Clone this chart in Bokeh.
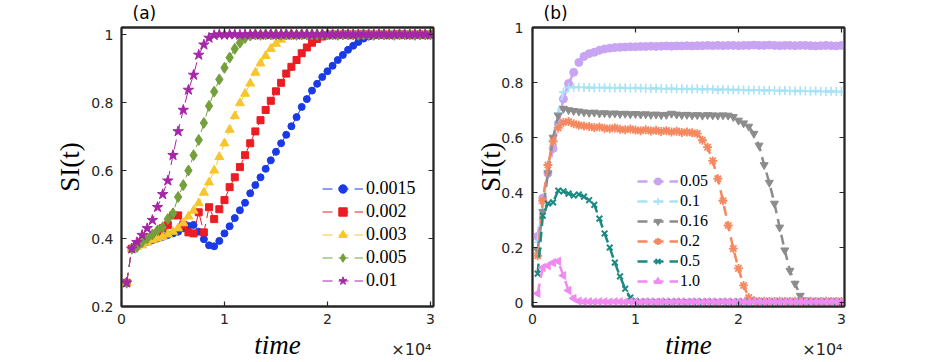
from bokeh.plotting import figure
from bokeh.models import Range1d, Legend, LegendItem, Label, LinearAxis, FixedTicker
from bokeh.layouts import row
from bokeh.embed import file_html
from bokeh.resources import INLINE
import math

# ---------------- data ----------------
time = [500, 1000, 1500, 2000, 2500, 3000, 3500, 4000, 4500, 5000,
        5500, 6000, 6500, 7000, 7500, 8000, 8500, 9000, 9500, 10000,
        10500, 11000, 11500, 12000, 12500, 13000, 13500, 14000, 14500, 15000,
        15500, 16000, 16500, 17000, 17500, 18000, 18500, 19000, 19500, 20000,
        20500, 21000, 21500, 22000, 22500, 23000, 23500, 24000, 24500, 25000,
        25500, 26000, 26500, 27000, 27500, 28000, 28500, 29000, 29500, 30000]

# panel (a)
labels_a = ["0.0015", "0.002", "0.003", "0.005", "0.01"]
si_a_0015 = [0.27, 0.37, 0.38, 0.385, 0.39, 0.395, 0.40, 0.405, 0.41, 0.415,
             0.42, 0.43, 0.437, 0.44, 0.42, 0.398, 0.38, 0.377, 0.393, 0.415,
             0.436, 0.46, 0.483, 0.505, 0.533, 0.557, 0.58, 0.605, 0.63, 0.655,
             0.68, 0.705, 0.73, 0.757, 0.787, 0.81, 0.835, 0.855, 0.875, 0.892,
             0.908, 0.925, 0.94, 0.955, 0.967, 0.978, 0.988, 0.994, 0.997, 0.999,
             1.0, 0.999, 1.0, 1.0, 0.999, 1.0, 1.0, 0.999, 1.0, 1.0]
si_a_002 = [0.27, 0.37, 0.38, 0.39, 0.395, 0.405, 0.415, 0.43, 0.44, 0.468,
            0.468, 0.44, 0.418, 0.415, 0.477, 0.418, 0.492, 0.457, 0.486, 0.513,
            0.551, 0.58, 0.61, 0.645, 0.68, 0.715, 0.748, 0.778, 0.805, 0.833,
            0.858, 0.885, 0.905, 0.925, 0.945, 0.962, 0.976, 0.987, 0.994, 0.998,
            1.0, 0.999, 1.0, 1.0, 0.999, 1.0, 1.0, 1.0, 0.999, 1.0,
            1.0, 0.999, 1.0, 1.0, 1.0, 0.999, 1.0, 1.0, 0.999, 1.0]
si_a_003 = [0.27, 0.37, 0.375, 0.38, 0.388, 0.395, 0.40, 0.405, 0.412, 0.42,
            0.43, 0.445, 0.465, 0.482, 0.504, 0.535, 0.565, 0.60, 0.64, 0.68,
            0.72, 0.76, 0.798, 0.826, 0.856, 0.888, 0.915, 0.937, 0.958, 0.973,
            0.985, 0.993, 0.997, 0.999, 1.0, 1.0, 0.999, 1.0, 1.0, 1.0,
            0.999, 1.0, 1.0, 0.999, 1.0, 1.0, 1.0, 0.999, 1.0, 1.0,
            0.999, 1.0, 1.0, 1.0, 0.999, 1.0, 1.0, 0.999, 1.0, 1.0]
si_a_005 = [0.27, 0.37, 0.375, 0.389, 0.40, 0.412, 0.424, 0.433, 0.457, 0.474,
            0.522, 0.557, 0.60, 0.645, 0.69, 0.74, 0.79, 0.832, 0.868, 0.902,
            0.932, 0.958, 0.976, 0.99, 0.997, 1.0, 0.999, 1.0, 1.0, 1.0,
            0.999, 1.0, 1.0, 0.999, 1.0, 1.0, 1.0, 0.999, 1.0, 1.0,
            1.0, 0.999, 1.0, 1.0, 1.0, 0.999, 1.0, 1.0, 0.999, 1.0,
            1.0, 1.0, 0.999, 1.0, 1.0, 1.0, 0.999, 1.0, 1.0, 1.0]
si_a_01 = [0.27, 0.37, 0.389, 0.41, 0.43, 0.454, 0.492, 0.53, 0.57, 0.645,
           0.715, 0.778, 0.837, 0.881, 0.94, 0.97, 0.99, 0.998, 1.0, 0.999,
           1.0, 1.0, 0.999, 1.0, 1.0, 1.0, 0.999, 1.0, 1.0, 0.999,
           1.0, 1.0, 1.0, 0.999, 1.0, 1.0, 0.999, 1.0, 1.0, 1.0,
           0.999, 1.0, 1.0, 1.0, 0.999, 1.0, 1.0, 0.999, 1.0, 1.0,
           1.0, 0.999, 1.0, 1.0, 1.0, 0.999, 1.0, 1.0, 1.0, 0.999]

# panel (b)
labels_b = ["0.05", "0.1", "0.16", "0.2", "0.5", "1.0"]
si_b_005 = [0.24, 0.38, 0.47, 0.56, 0.65, 0.74, 0.796, 0.837, 0.873, 0.895,
            0.905, 0.91, 0.917, 0.922, 0.925, 0.927, 0.928, 0.929, 0.93, 0.93,
            0.931, 0.931, 0.932, 0.931, 0.932, 0.933, 0.932, 0.933, 0.933, 0.934,
            0.933, 0.934, 0.934, 0.935, 0.934, 0.935, 0.934, 0.935, 0.935, 0.934,
            0.935, 0.935, 0.936, 0.935, 0.935, 0.936, 0.935, 0.934, 0.935, 0.935,
            0.934, 0.935, 0.935, 0.934, 0.933, 0.934, 0.935, 0.934, 0.933, 0.935]
si_b_01 = [0.22, 0.36, 0.48, 0.59, 0.69, 0.765, 0.782, 0.783, 0.783, 0.782,
           0.782, 0.781, 0.782, 0.781, 0.781, 0.780, 0.781, 0.780, 0.779, 0.780,
           0.779, 0.779, 0.778, 0.779, 0.778, 0.777, 0.778, 0.777, 0.777, 0.776,
           0.776, 0.777, 0.775, 0.776, 0.775, 0.774, 0.775, 0.774, 0.773, 0.774,
           0.773, 0.772, 0.773, 0.772, 0.771, 0.772, 0.771, 0.770, 0.771, 0.770,
           0.769, 0.770, 0.769, 0.768, 0.769, 0.768, 0.767, 0.768, 0.767, 0.767]
si_b_016 = [0.19, 0.33, 0.47, 0.60, 0.68, 0.705, 0.70, 0.697, 0.695, 0.692,
            0.69, 0.691, 0.688, 0.689, 0.687, 0.688, 0.686, 0.687, 0.685, 0.686,
            0.684, 0.685, 0.683, 0.684, 0.682, 0.683, 0.687, 0.684, 0.682, 0.683,
            0.681, 0.682, 0.680, 0.682, 0.681, 0.680, 0.681, 0.680, 0.675, 0.662,
            0.652, 0.64, 0.614, 0.571, 0.50, 0.436, 0.36, 0.273, 0.19, 0.116,
            0.069, 0.025, 0.008, 0.005, 0.004, 0.005, 0.004, 0.005, 0.004, 0.004]
si_b_02 = [0.17, 0.37, 0.50, 0.585, 0.635, 0.655, 0.658, 0.65, 0.645, 0.642,
           0.64, 0.636, 0.638, 0.634, 0.632, 0.635, 0.63, 0.628, 0.631, 0.627,
           0.625, 0.628, 0.624, 0.626, 0.622, 0.625, 0.62, 0.623, 0.618, 0.62,
           0.617, 0.614, 0.59, 0.565, 0.515, 0.45, 0.37, 0.28, 0.196, 0.124,
           0.062, 0.018, 0.006, 0.004, 0.005, 0.004, 0.004, 0.005, 0.004, 0.004,
           0.005, 0.004, 0.004, 0.005, 0.004, 0.004, 0.005, 0.004, 0.004, 0.004]
si_b_05 = [0.105, 0.316, 0.36, 0.364, 0.407, 0.404, 0.396, 0.389, 0.393, 0.385,
           0.372, 0.355, 0.305, 0.251, 0.20, 0.145, 0.095, 0.05, 0.018, 0.006,
           0.003, 0.004, 0.003, 0.003, 0.004, 0.003, 0.003, 0.004, 0.003, 0.003,
           0.004, 0.003, 0.003, 0.004, 0.003, 0.003, 0.004, 0.003, 0.003, 0.004,
           0.003, 0.003, 0.004, 0.003, 0.003, 0.004, 0.003, 0.003, 0.004, 0.003,
           0.003, 0.004, 0.003, 0.003, 0.004, 0.003, 0.003, 0.004, 0.003, 0.003]
si_b_10 = [0.033, 0.127, 0.134, 0.145, 0.15, 0.098, 0.044, 0.015, 0.005, 0.003,
           0.003, 0.002, 0.003, 0.003, 0.002, 0.003, 0.003, 0.002, 0.003, 0.003,
           0.002, 0.003, 0.003, 0.002, 0.003, 0.003, 0.002, 0.003, 0.003, 0.002,
           0.003, 0.003, 0.002, 0.003, 0.003, 0.002, 0.003, 0.003, 0.002, 0.003,
           0.003, 0.002, 0.003, 0.003, 0.002, 0.003, 0.003, 0.002, 0.003, 0.003,
           0.002, 0.003, 0.003, 0.002, 0.003, 0.003, 0.002, 0.003, 0.003, 0.003]

x_ticks = [0, 10000, 20000, 30000]
x_tick_labels = ["0", "1", "2", "3"]
y_ticks_a = [0.2, 0.4, 0.6, 0.8, 1]
y_tick_labels_a = ["0.2", "0.4", "0.6", "0.8", "1"]
y_ticks_b = [0, 0.2, 0.4, 0.6, 0.8, 1]
y_tick_labels_b = ["0", "0.2", "0.4", "0.6", "0.8", "1"]
X_END = 30300

# ---------------- styling ----------------
DARK = "#262626"
H = 362


def make_panel(width, left, right, y_range, y_ticks, y_tick_labels, ytick_standoff,
               ylab_standoff, title, exp_side):
    p = figure(width=width, height=H, output_backend="svg", toolbar_location=None,
               title=None, x_range=Range1d(0, X_END), y_range=Range1d(*y_range),
               min_border_left=left, min_border_right=right,
               min_border_top=27, min_border_bottom=56)
    p.xgrid.visible = False
    p.ygrid.visible = False
    p.outline_line_color = DARK
    p.outline_line_width = 1.8
    p.background_fill_color = "white"

    xt = FixedTicker(ticks=x_ticks)
    yt = FixedTicker(ticks=y_ticks)
    p.xaxis.ticker = xt
    p.yaxis.ticker = yt
    p.xaxis.major_label_overrides = dict(zip(x_ticks, x_tick_labels))
    p.yaxis.major_label_overrides = dict(zip(y_ticks, y_tick_labels))
    for ax in (p.xaxis[0], p.yaxis[0]):
        ax.axis_line_color = DARK
        ax.axis_line_width = 1.8
        ax.major_tick_in = 5
        ax.major_tick_out = 0
        ax.major_tick_line_color = DARK
        ax.major_tick_line_width = 1.2
        ax.minor_tick_line_color = None
        ax.major_label_text_font = "DejaVu Sans"
        ax.major_label_text_font_size = "14px"
        ax.major_label_text_color = DARK
        ax.axis_label_text_font = "Liberation Serif"
        ax.axis_label_text_font_size = "27px"
        ax.axis_label_text_color = "black"
    p.xaxis.major_label_standoff = 7
    p.yaxis.major_label_standoff = ytick_standoff
    p.xaxis.axis_label = "time"
    p.xaxis.axis_label_text_font_style = "italic"
    p.xaxis.axis_label_standoff = 3
    p.yaxis.axis_label = "SI(t)"
    p.yaxis.axis_label_text_font_style = "normal"
    p.yaxis.axis_label_standoff = ylab_standoff

    for loc, tk in (("right", yt), ("above", xt)):
        ax = LinearAxis(ticker=tk, major_label_text_font_size="0px", major_label_text_color=None,
                        major_label_standoff=0, major_tick_in=5, major_tick_out=0,
                        major_tick_line_color=DARK, major_tick_line_width=1.2,
                        minor_tick_line_color=None, axis_line_color=DARK, axis_line_width=1.8)
        p.add_layout(ax, loc)

    # panel tag, anchored at the top-left corner of the axes box
    p.add_layout(Label(x=0, x_offset=11, y=y_range[1], y_offset=14.5, x_units="data",
                       y_units="data", text=title, text_align="left", text_baseline="middle",
                       text_font="DejaVu Sans", text_font_size="17px", text_color="black"),
                 "above")
    # exponent label of the x axis, anchored at the right end of the x range
    p.add_layout(Label(x=X_END, x_offset=-2, y=-43, x_units="data", y_units="screen",
                       text="×10⁴", text_align="right", text_baseline="alphabetic",
                       text_font="DejaVu Sans", text_font_size="16px", text_color=DARK),
                 exp_side)
    return p


# ---------------- panel (a) ----------------
pa = make_panel(440, 121, 7, (0.2, 1.0206), y_ticks_a, y_tick_labels_a, 8, 3, "(a)", "left")
series_a = [
    (si_a_0015, "#1a3ae8", "circle", 7),
    (si_a_002, "#ec1c24", "square", 7),
    (si_a_003, "#f7c62c", "triangle", 9),
    (si_a_005, "#74a03c", "diamond", 11),
    (si_a_01, "#a626a8", "star", 11),
]
items_a = []
for (vals, col, mk, sz), lab in zip(series_a, labels_a):
    ln = pa.line(time, vals, line_color=col, line_width=1, line_dash="10 6")
    sc = pa.scatter(time, vals, marker=mk, size=sz, fill_color=col, line_color=col, line_width=1)
    items_a.append(LegendItem(label=lab, renderers=[ln, sc]))
leg_a = Legend(items=items_a, location=(201, 15), orientation="vertical",
               glyph_width=41, glyph_height=21, label_height=21, spacing=2,
               padding=0, margin=0, label_standoff=3, border_line_color=None,
               background_fill_alpha=0, label_text_font="Liberation Serif",
               label_text_font_size="18px", label_text_color="black")
pa.add_layout(leg_a)

# ---------------- panel (b) ----------------
pb = make_panel(493, 92, 89, (-0.0145, 1.0), y_ticks_b, y_tick_labels_b, 9, -8, "(b)", "right")
series_b = [
    (si_b_005, "#c9a4f2", "circle", 8, 0.0, 1),
    (si_b_01, "#a8e2f6", "cross", 9, 0.0, 1.6),
    (si_b_016, "#8c8c8c", "inverted_triangle", 8, 0.0, 1),
    (si_b_02, "#f5885f", "asterisk", 9, 0.0, 1.8),
    (si_b_05, "#1b8a82", "x", 8, 0.0, 2),
    (si_b_10, "#f08af0", "triangle", 8, math.pi / 2, 1),
]
items_b = []
for (vals, col, mk, sz, ang, lw), lab in zip(series_b, labels_b):
    ln = pb.line(time, vals, line_color=col, line_width=2.5, line_dash="10 6")
    sc = pb.scatter(time, vals, marker=mk, size=sz, angle=ang, fill_color=col,
                    line_color=col, line_width=lw)
    items_b.append(LegendItem(label=lab, renderers=[ln, sc]))
leg_b = Legend(items=items_b, location=(105, 16), orientation="vertical",
               glyph_width=41, glyph_height=18, label_height=18, spacing=2,
               padding=0, margin=0, label_standoff=2, border_line_color=None,
               background_fill_alpha=0, label_text_font="Liberation Serif",
               label_text_font_size="16px", label_text_color="black")
pb.add_layout(leg_b)

layout = row(pa, pb, spacing=0)
open("out.html", "w").write(file_html(layout, INLINE))
